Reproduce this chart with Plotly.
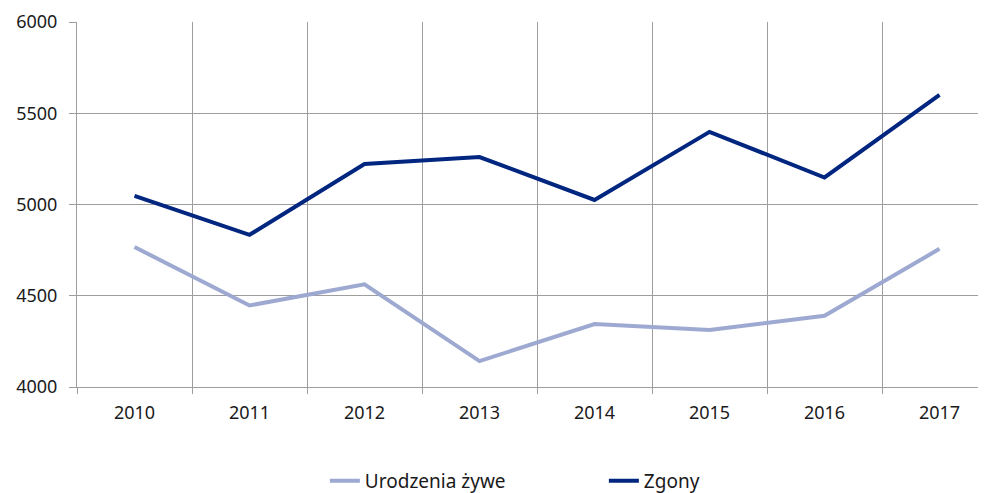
import plotly.graph_objects as go

years = ["2010", "2011", "2012", "2013", "2014", "2015", "2016", "2017"]
births = [4767, 4447, 4563, 4142, 4345, 4312, 4390, 4757]
deaths = [5047, 4834, 5222, 5260, 5025, 5398, 5148, 5601]

colors = {
    'births': '#9DA9D1',
    'deaths': '#002680',
    'grid': '#9E9E9E',
    'text': '#1A1A1A',
}

fig = go.Figure()

fig.add_trace(go.Scatter(
    x=years, y=births, name='Urodzenia żywe', mode='lines',
    line=dict(color=colors['births'], width=4),
))
fig.add_trace(go.Scatter(
    x=years, y=deaths, name='Zgony', mode='lines',
    line=dict(color=colors['deaths'], width=4),
))

# page body adds an 8px margin, so the figure is sized to fit inside the window
fig.update_layout(
    width=978, height=485,
    margin=dict(l=69, r=0, t=14, b=106, autoexpand=False),
    plot_bgcolor='white', paper_bgcolor='white',
    font=dict(family='Noto Sans, Open Sans, sans-serif', size=18, color=colors['text']),
    legend=dict(
        orientation='h', xref='container', yref='container',
        x=0.324, y=0.025, xanchor='left', yanchor='middle',
        font=dict(size=19), entrywidth=234, entrywidthmode='pixels',
    ),
)

fig.update_xaxes(
    type='category', range=[-0.5, 7.404], automargin=False,
    showgrid=True, gridcolor=colors['grid'], gridwidth=1,
    tickson='boundaries', ticks='outside', ticklen=6, tickcolor=colors['grid'],
    ticklabelstandoff=9,
    showline=True, linecolor=colors['grid'], zeroline=False,
)
fig.update_yaxes(
    range=[4000, 6000], tickvals=[4000, 4500, 5000, 5500, 6000], automargin=False,
    showgrid=True, gridcolor=colors['grid'], gridwidth=1,
    ticks='outside', ticklen=7, tickcolor=colors['grid'],
    ticklabelstandoff=8,
    showline=True, linecolor=colors['grid'], zeroline=False,
)

fig.write_html("out.html")
